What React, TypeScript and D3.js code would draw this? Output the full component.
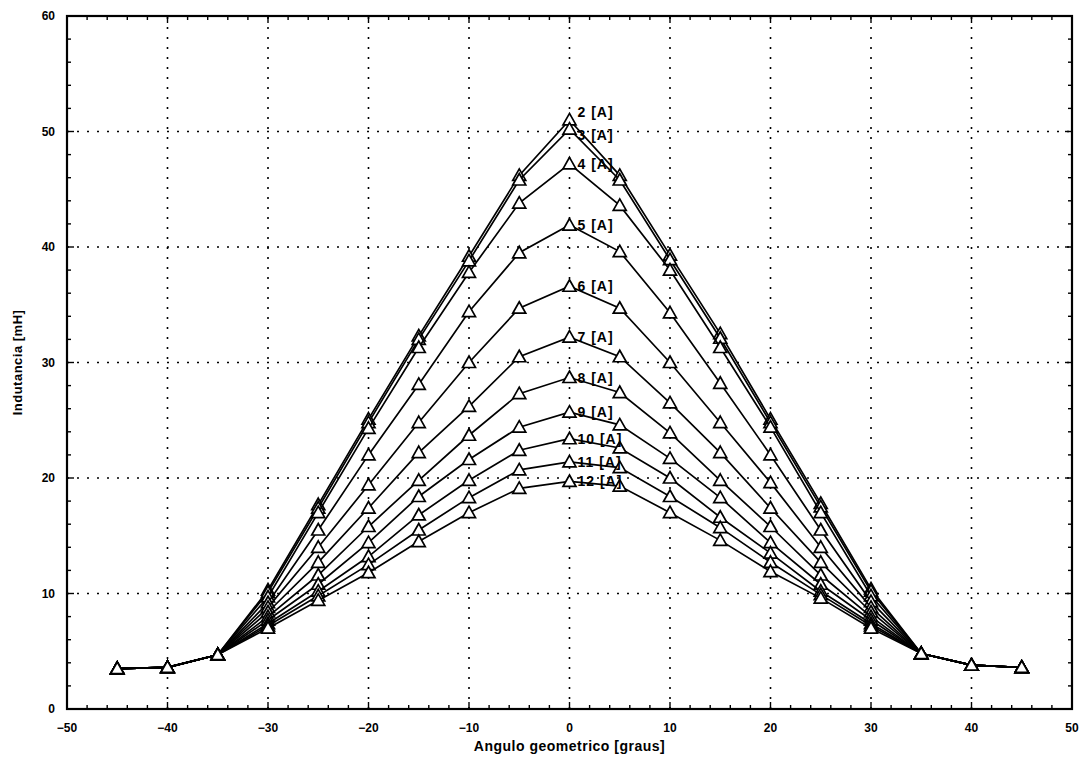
import React from "react";
import * as d3 from "d3";

const angles = [-45, -40, -35, -30, -25, -20, -15, -10, -5, 0, 5, 10, 15, 20, 25, 30, 35, 40, 45];

const seriesLabels = ["2 [A]", "3 [A]", "4 [A]", "5 [A]", "6 [A]", "7 [A]", "8 [A]", "9 [A]", "10 [A]", "11 [A]", "12 [A]"];

const s2 = [3.5, 3.6, 4.7, 10.3, 17.7, 25.1, 32.3, 39.2, 46.2, 51.0, 46.2, 39.3, 32.5, 25.1, 17.8, 10.4, 4.8, 3.8, 3.6];
const s3 = [3.5, 3.6, 4.7, 10.1, 17.4, 24.8, 32.0, 38.8, 45.8, 50.2, 45.8, 38.9, 32.1, 24.8, 17.5, 10.2, 4.8, 3.8, 3.6];
const s4 = [3.5, 3.6, 4.7, 9.7, 17.0, 24.3, 31.3, 37.8, 43.8, 47.2, 43.6, 38.0, 31.3, 24.4, 17.0, 9.8, 4.8, 3.8, 3.6];
const s5 = [3.5, 3.6, 4.7, 9.2, 15.5, 22.0, 28.1, 34.4, 39.5, 41.9, 39.6, 34.3, 28.2, 22.0, 15.5, 9.3, 4.8, 3.8, 3.6];
const s6 = [3.5, 3.6, 4.7, 8.8, 14.0, 19.4, 24.8, 30.0, 34.7, 36.6, 34.7, 30.0, 24.8, 19.6, 14.0, 8.8, 4.8, 3.8, 3.6];
const s7 = [3.5, 3.6, 4.7, 8.4, 12.7, 17.4, 22.2, 26.2, 30.5, 32.2, 30.5, 26.5, 22.2, 17.4, 12.7, 8.4, 4.8, 3.8, 3.6];
const s8 = [3.5, 3.6, 4.7, 8.0, 11.6, 15.8, 19.8, 23.7, 27.3, 28.7, 27.4, 23.9, 19.8, 15.8, 11.6, 8.0, 4.8, 3.8, 3.6];
const s9 = [3.5, 3.6, 4.7, 7.7, 10.8, 14.4, 18.4, 21.6, 24.4, 25.7, 24.6, 21.7, 18.3, 14.4, 10.8, 7.7, 4.8, 3.8, 3.6];
const s10 = [3.5, 3.6, 4.7, 7.4, 10.2, 13.2, 16.8, 19.8, 22.4, 23.4, 22.6, 20.0, 16.6, 13.5, 10.2, 7.4, 4.8, 3.8, 3.6];
const s11 = [3.5, 3.6, 4.7, 7.2, 9.8, 12.5, 15.5, 18.3, 20.7, 21.4, 20.9, 18.4, 15.7, 12.7, 9.9, 7.2, 4.8, 3.8, 3.6];
const s12 = [3.5, 3.6, 4.7, 7.0, 9.4, 11.8, 14.5, 17.0, 19.1, 19.7, 19.3, 17.0, 14.6, 11.9, 9.6, 7.0, 4.8, 3.8, 3.6];

const seriesValues = [s2, s3, s4, s5, s6, s7, s8, s9, s10, s11, s12];

const xTicks = [-50, -40, -30, -20, -10, 0, 10, 20, 30, 40, 50];
const yTicks = [0, 10, 20, 30, 40, 50, 60];
const xTitle = "Angulo geometrico [graus]";
const yTitle = "Indutancia [mH]";

const W = 1086;
const H = 762;
const L = 67, R = 1072, T = 16, B = 709;

export default function App() {
  const x = d3.scaleLinear().domain([-50, 50]).range([L, R]);
  const y = d3.scaleLinear().domain([0, 60]).range([B, T]);
  const line = d3.line<number>().x((_, i) => x(angles[i])).y((v) => y(v));
  const tri = (cx: number, cy: number) =>
    `M${cx},${cy - 6.5}L${cx + 6.5},${cy + 5}L${cx - 6.5},${cy + 5}Z`;
  const font = "'Liberation Sans', Arial, Helvetica, sans-serif";
  const xMinor = d3.range(-50, 50.01, 2);
  const yMinor = d3.range(0, 60.01, 2);
  const fmt = (v: number) => (v < 0 ? "\u2212" + Math.abs(v) : String(v));
  const labelDy = (si: number) => (si === 0 ? -3 : si === 1 ? 11 : 5);

  return (
    <svg width={W} height={H} style={{ position: "absolute", left: 0, top: 0, background: "#fff" }}>
      <rect x={0} y={0} width={W} height={H} fill="#fff" />
      <g stroke="#000" strokeWidth={1.6} strokeDasharray="2,8">
        {xTicks.slice(1, -1).map((t) => (
          <line key={"gx" + t} x1={x(t)} x2={x(t)} y1={y(0)} y2={y(60)} />
        ))}
        {yTicks.slice(1, -1).map((t) => (
          <line key={"gy" + t} x1={x(-50)} x2={x(50)} y1={y(t)} y2={y(t)} />
        ))}
      </g>
      <g stroke="#000" strokeWidth={1.4}>
        {xMinor.map((t) => {
          const len = t % 10 === 0 ? 7 : 4;
          return (
            <g key={"mx" + t}>
              <line x1={x(t)} x2={x(t)} y1={B} y2={B - len} />
              <line x1={x(t)} x2={x(t)} y1={T} y2={T + len} />
            </g>
          );
        })}
        {yMinor.map((t) => {
          const len = t % 10 === 0 ? 7 : 4;
          return (
            <g key={"my" + t}>
              <line x1={L} x2={L + len} y1={y(t)} y2={y(t)} />
              <line x1={R} x2={R - len} y1={y(t)} y2={y(t)} />
            </g>
          );
        })}
      </g>
      <rect x={L} y={T} width={R - L} height={B - T} fill="none" stroke="#000" strokeWidth={2.2} />
      {seriesValues.map((vals, si) => (
        <g key={"s" + si}>
          <path d={line(vals) || ""} fill="none" stroke="#000" strokeWidth={1.7} />
          {vals.map((v, i) => (
            <path key={i} d={tri(x(angles[i]), y(v))} fill="#fff" stroke="#000" strokeWidth={1.7} />
          ))}
        </g>
      ))}
      <g fontFamily={font} fontSize={14} fontWeight="bold" letterSpacing={1} fill="#000">
        {seriesValues.map((vals, si) => (
          <text key={"l" + si} x={x(0) + 8} y={y(vals[9]) + labelDy(si)}>
            {seriesLabels[si]}
          </text>
        ))}
      </g>
      <g fontFamily={font} fontSize={12} fontWeight="bold" fill="#000">
        {xTicks.map((t) => (
          <text key={"tx" + t} x={x(t)} y={B + 23} textAnchor="middle">
            {fmt(t)}
          </text>
        ))}
        {yTicks.map((t) => (
          <text key={"ty" + t} x={L - 12} y={y(t) + 4} textAnchor="end">
            {fmt(t)}
          </text>
        ))}
      </g>
      <text x={(L + R) / 2} y={B + 42} textAnchor="middle" fontFamily={font} fontSize={14} fontWeight="bold" letterSpacing={0.5}>
        {xTitle}
      </text>
      <text
        transform={`translate(22,${(T + B) / 2}) rotate(-90)`}
        textAnchor="middle"
        fontFamily={font}
        fontSize={13}
        fontWeight="bold"
        letterSpacing={0.5}
      >
        {yTitle}
      </text>
    </svg>
  );
}
